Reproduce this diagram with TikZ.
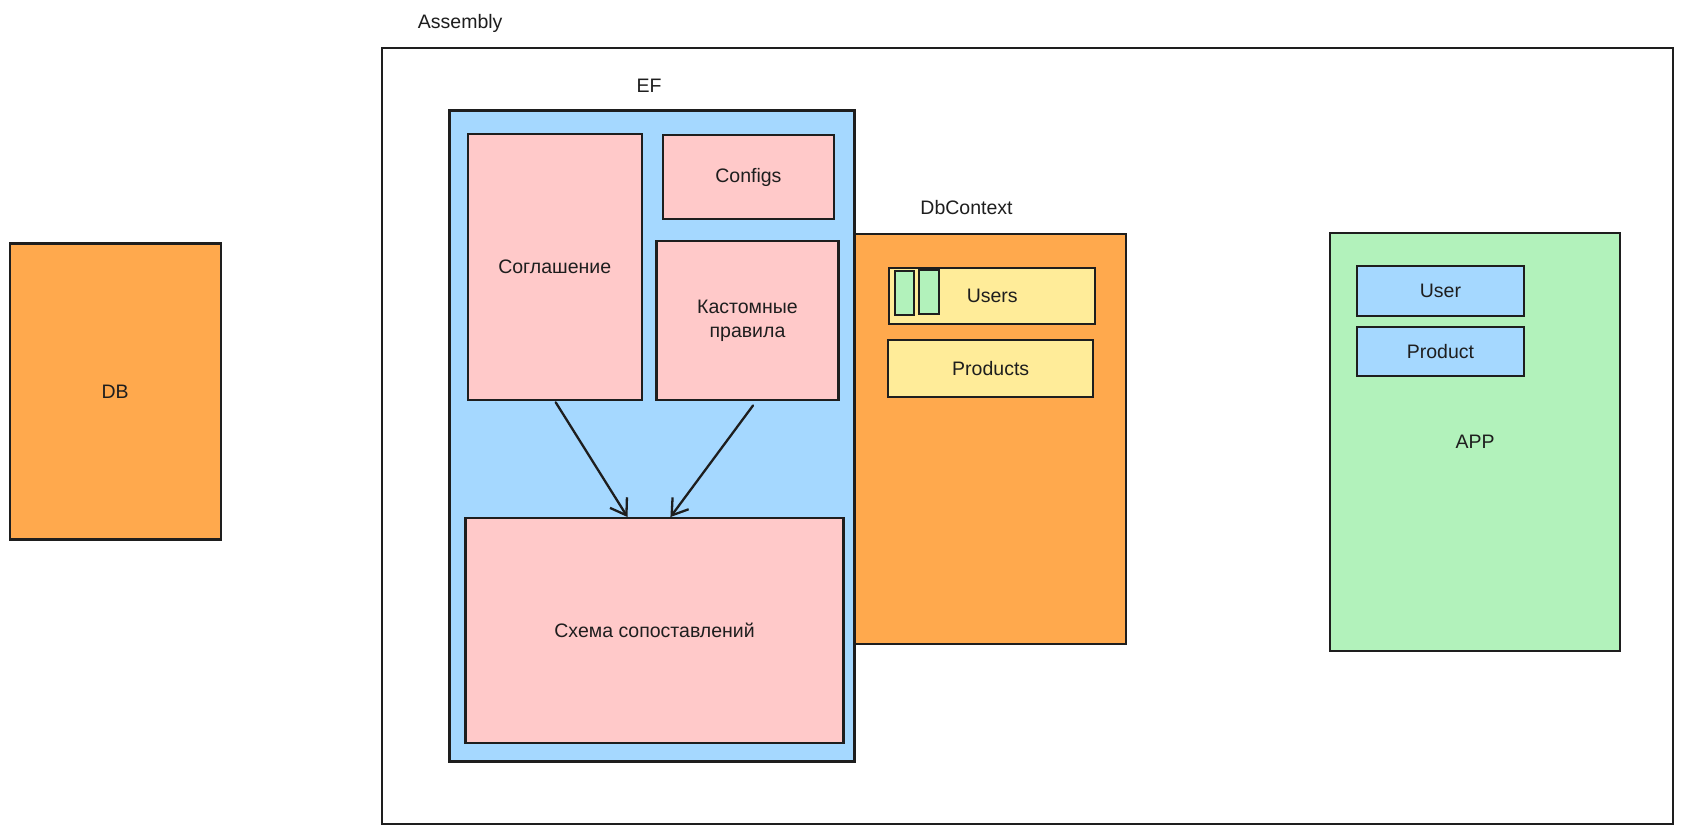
\documentclass[tikz,border=0pt]{standalone}
\usepackage{fontspec}
\setmainfont{Liberation Sans}
\usetikzlibrary{arrows.meta}
\definecolor{ink}{HTML}{1E1E1E}
\definecolor{cblue}{HTML}{A5D8FF}
\definecolor{cpink}{HTML}{FFC9C9}
\definecolor{corange}{HTML}{FFA94D}
\definecolor{cyellow}{HTML}{FFEC99}
\definecolor{cgreen}{HTML}{B2F2BB}
\tikzset{
  box/.style={draw=ink, line width=2.2pt, rectangle, anchor=north west, inner sep=0pt, outer sep=0pt, font=\fontsize{19.5}{24}\selectfont, text=ink, align=center},
  lbl/.style={font=\fontsize{19.5}{24}\selectfont, text=ink, inner sep=0pt},
  arr/.style={draw=ink, line width=2.3pt, line cap=round, -{Straight Barb[length=15pt,width=20pt,line width=2.3pt]}},
}
\begin{document}
\begin{tikzpicture}[x=1.07270pt,y=-1.07270pt]
\useasboundingbox (0,0) rectangle (1568,776.5);
\fill[white] (0,0) rectangle (1568,776.5);

% Assembly container
\node[box, line width=1.6pt, minimum width=1291pt, minimum height=776pt] (asm) at (356,45) {};
\node[lbl] (asmlbl) at (429,22) {Assembly};

% DB
\node[box, fill=corange, minimum width=211pt, minimum height=296pt] (db) at (9,227) {};
\node[lbl] (dblbl) at (db.center) {DB};

% EF
\node[box, fill=cblue, minimum width=405pt, minimum height=651pt] (ef) at (419,103) {};
\node[lbl] (eflbl) at (605,80) {EF};
\node[box, fill=cpink, minimum width=174pt, minimum height=266pt] (sogl) at (436,125) {Соглашение};
\node[box, fill=cpink, minimum width=171pt, minimum height=84pt] (cfg) at (618,126) {Configs};
\node[box, fill=cpink, minimum width=182pt, minimum height=159pt] (kast) at (612,225) {Кастомные\\правила};
\node[box, fill=cpink, minimum width=378pt, minimum height=225pt] (schema) at (434,483) {Схема сопоставлений};
\coordinate (a1s) at (518,375);
\coordinate (a1e) at (585,482);
\coordinate (a2s) at (702,378);
\coordinate (a2e) at (625,482);
\draw[arr] (a1s) -- (a1e);
\draw[arr] (a2s) -- (a2e);

% DbContext
\node[box, fill=corange, minimum width=271pt, minimum height=410pt] (dbc) at (797,218) {};
\node[lbl] (dbclbl) at (901,193) {DbContext};
\node[box, fill=cyellow, minimum width=206pt, minimum height=56pt] (users) at (829,250) {};
\node[lbl] (userslbl) at (925,276) {Users};
\node[box, fill=cgreen, line width=1.8pt, minimum width=19pt, minimum height=44pt] (g1) at (834,253) {};
\node[box, fill=cgreen, line width=1.8pt, minimum width=20pt, minimum height=44pt] (g2) at (857,252) {};
\node[box, fill=cyellow, minimum width=205pt, minimum height=57pt] (prods) at (828,317) {Products};

% APP
\node[box, fill=cgreen, minimum width=290pt, minimum height=418pt] (app) at (1240,217) {};
\node[lbl] (applbl) at (app.center) {APP};
\node[box, fill=cblue, minimum width=167pt, minimum height=50pt] (user) at (1265,248) {User};
\node[box, fill=cblue, minimum width=167pt, minimum height=49pt] (product) at (1265,305) {Product};
\end{tikzpicture}
\end{document}
